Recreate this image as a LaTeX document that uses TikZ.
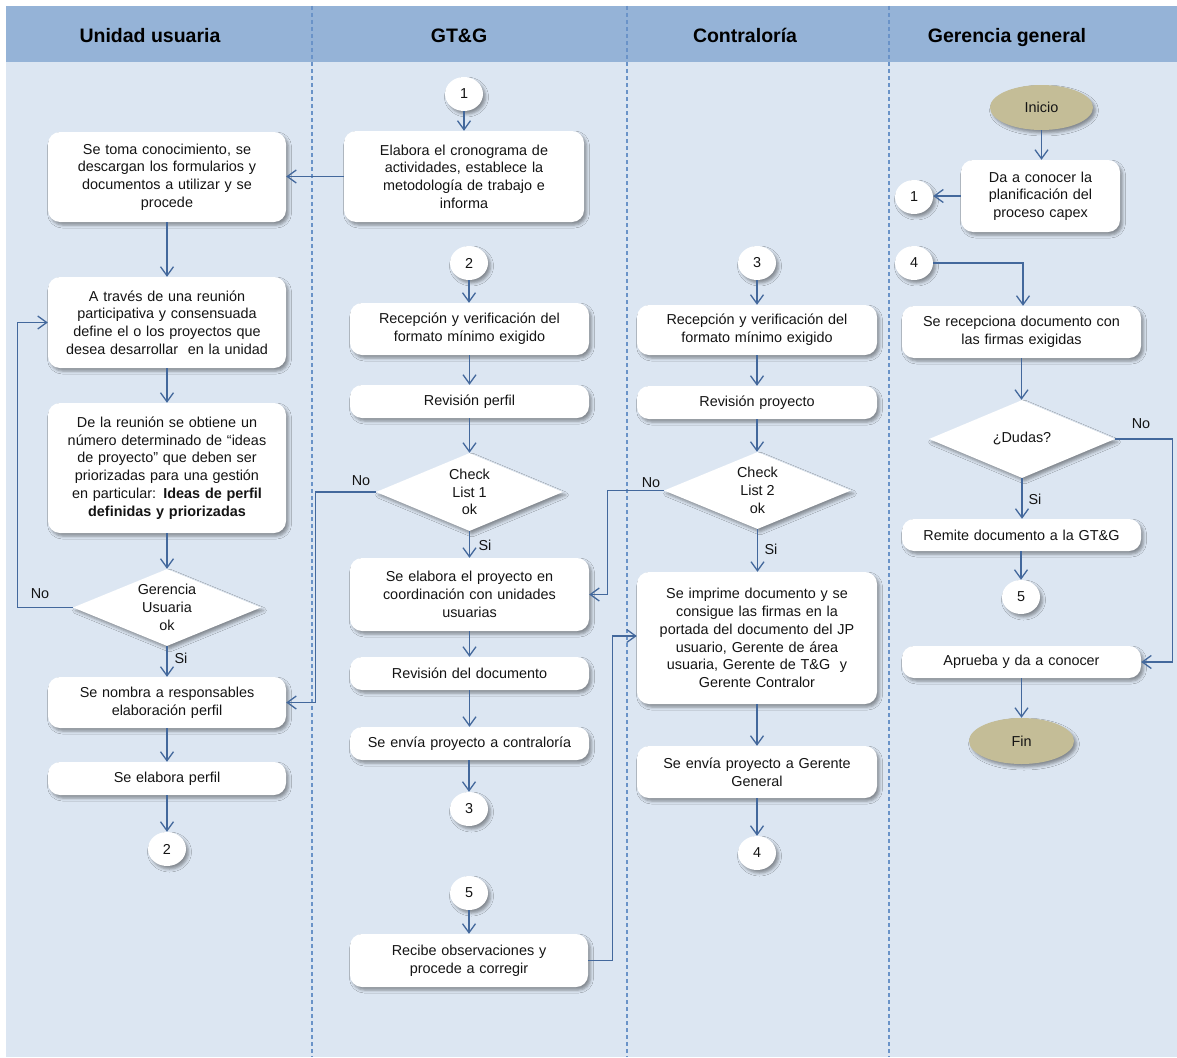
\documentclass[tikz,border=0pt]{standalone}
\usepackage{fontspec}
\setmainfont{Liberation Sans}
\usetikzlibrary{arrows.meta,shapes.geometric,shadows.blur,calc}
\definecolor{headband}{HTML}{95B3D7}
\definecolor{bodyfill}{HTML}{DCE6F2}
\definecolor{sepblue}{HTML}{6A93C8}
\definecolor{flow}{HTML}{43689C}
\definecolor{tan}{HTML}{C4BD97}
\definecolor{ink}{HTML}{141414}
\begin{document}
\begin{tikzpicture}[x=1pt,y=-1pt,
  every node/.style={font=\fontsize{14.4}{17.7}\selectfont, text=ink},
  shadowed/.style={blur shadow={shadow xshift=2.5pt,shadow yshift=-3pt,shadow blur radius=3pt,shadow opacity=40}},
  stepbox/.style={shadowed, fill=white, rounded corners=12pt, minimum width=238pt, text width=230pt, align=center, inner sep=0pt},
  decision/.style={shadowed, shape=diamond, fill=white, inner sep=0pt},
  connector/.style={shadowed, shape=ellipse, fill=white, minimum width=38pt, minimum height=34pt, inner sep=0pt},
  terminal/.style={shadowed, shape=ellipse, fill=tan, inner sep=0pt},
  arr/.style={draw=flow, line width=1.3pt, -{Straight Barb[length=9pt,width=13pt]}},
  lanetitle/.style={font=\fontsize{19.5}{22}\selectfont\bfseries, text=black, anchor=base},
  lanesep/.style={draw=sepblue, line width=1.1pt, dash pattern=on 4pt off 3pt},
  lbl/.style={inner sep=0pt}
]
% page, header band and lane body
\useasboundingbox (0,0) rectangle (1177,1057);
\fill[white] (0,0) rectangle (1177,1057);
\fill[bodyfill] (6,62) rectangle (1177,1057);
\fill[headband] (6,6) rectangle (1177,62);
\foreach \sx in {312,627,889} \draw[lanesep] (\sx,6) -- (\sx,1057);

% lane titles
\node[lanetitle] (t1) at (150,42) {Unidad usuaria};
\node[lanetitle] (t2) at (459,42) {GT\&G};
\node[lanetitle] (t3) at (745,42) {Contraloría};
\node[lanetitle] (t4) at (1007,42) {Gerencia general};

% ---- Unidad usuaria
\node[stepbox, minimum height=90pt] (a1) at (167,177) {Se toma conocimiento, se\\descargan los formularios y\\documentos a utilizar y se\\procede};
\node[stepbox, minimum height=91pt] (a2) at (167,322.5) {A través de una reunión\\participativa y consensuada\\define el o los proyectos que\\desea desarrollar\ \ en la unidad};
\node[stepbox, minimum height=130pt] (a3) at (167,468) {De la reunión se obtiene un\\número determinado de “ideas\\de proyecto” que deben ser\\priorizadas para una gestión\\en particular: \textbf{Ideas de perfil}\\\textbf{definidas y priorizadas}};
\node[decision, minimum width=188pt, minimum height=77pt] (d1) at (167,607.5) {};
\node[align=center] (d1t) at (d1) {Gerencia\\Usuaria\\ok};
\node[stepbox, minimum height=51pt] (a4) at (167,702.5) {Se nombra a responsables\\elaboración perfil};
\node[stepbox, minimum height=33pt] (a5) at (167,778.5) {Se elabora perfil};
\node[connector] (c2u) at (167,849) {2};

% ---- GT&G
\node[connector] (c1g) at (464,94) {1};
\node[stepbox, minimum width=240pt, minimum height=91pt] (b1) at (464,176.5) {Elabora el cronograma de\\actividades, establece la\\metodología de trabajo e\\informa};
\node[connector] (c2g) at (469,263) {2};
\node[stepbox, minimum width=239pt, minimum height=52pt] (b2) at (469.5,329) {Recepción y verificación del\\formato mínimo exigido};
\node[stepbox, minimum width=239pt, minimum height=33pt] (b3) at (469.5,401.5) {Revisión perfil};
\node[decision, minimum width=187pt, minimum height=78pt] (d2) at (469.5,492) {};
\node[align=center] (d2t) at (d2) {Check\\List 1\\ok};
\node[stepbox, minimum width=239pt, minimum height=73pt] (b4) at (469.5,594.5) {Se elabora el proyecto en\\coordinación con unidades\\usuarias};
\node[stepbox, minimum width=239pt, minimum height=33pt] (b5) at (469.5,673.5) {Revisión del documento};
\node[stepbox, minimum width=239pt, minimum height=33pt] (b6) at (469.5,743.5) {Se envía proyecto a contraloría};
\node[connector] (c3g) at (469,809) {3};
\node[connector] (c5g) at (469,893) {5};
\node[stepbox, minimum height=53pt] (b7) at (469,960.5) {Recibe observaciones y\\procede a corregir};

% ---- Contraloría
\node[connector] (c3c) at (757,263) {3};
\node[stepbox, minimum width=240pt, minimum height=50pt] (c1) at (757,330) {Recepción y verificación del\\formato mínimo exigido};
\node[stepbox, minimum width=240pt, minimum height=33pt] (c2) at (757,402.5) {Revisión proyecto};
\node[decision, minimum width=187pt, minimum height=77pt] (d3) at (757.5,490.5) {};
\node[align=center] (d3t) at (d3) {Check\\List 2\\ok};
\node[stepbox, minimum width=240pt, minimum height=132pt] (c3) at (757,638) {Se imprime documento y se\\consigue las firmas en la\\portada del documento del JP\\usuario, Gerente de área\\usuaria, Gerente de T\&G\ \ y\\Gerente Contralor};
\node[stepbox, minimum width=240pt, minimum height=52pt] (c4) at (757,772) {Se envía proyecto a Gerente\\General};
\node[connector] (c4c) at (757,853) {4};

% ---- Gerencia general
\node[terminal, minimum width=103pt, minimum height=45pt] (ini) at (1041.5,107.5) {Inicio};
\node[stepbox, minimum width=159pt, text width=152pt, minimum height=72pt] (g1) at (1040.5,196) {Da a conocer la\\planificación del\\proceso capex};
\node[connector] (c1r) at (914,197) {1};
\node[connector] (c4r) at (914,263) {4};
\node[stepbox, minimum width=239pt, minimum height=52pt] (g2) at (1021.5,332) {Se recepciona documento con\\las firmas exigidas};
\node[decision, minimum width=186pt, minimum height=78pt] (d4) at (1022,439) {};
\node[align=center] (d4t) at (d4) {¿Dudas?};
\node[stepbox, minimum width=239pt, minimum height=32pt] (g3) at (1021.5,535) {Remite documento a la GT\&G};
\node[connector] (c5r) at (1021,597) {5};
\node[stepbox, minimum width=239pt, minimum height=32pt] (g4) at (1021.5,662) {Aprueba y da a conocer};
\node[terminal, minimum width=105pt, minimum height=46pt] (fin) at (1021.5,741) {Fin};

% ---- branch labels
\node[lbl] (no1) at (40,594) {No};
\node[lbl] (si1) at (181,658) {Si};
\node[lbl] (no2) at (361,481) {No};
\node[lbl] (si2) at (485,545) {Si};
\node[lbl] (no3) at (651,483) {No};
\node[lbl] (si3) at (771,549) {Si};
\node[lbl] (no4) at (1141,424) {No};
\node[lbl] (si4) at (1035,499) {Si};

% ---- connectors: Unidad usuaria
\draw[arr] (b1.west) -- (b1.west -| a1.east);
\draw[arr] (a1.south) -- (a2.north);
\draw[arr] (a2.south) -- (a3.north);
\draw[arr] (a3.south) -- (d1.north);
\draw[arr] (d1.south) -- (a4.north);
\draw[arr] (d1.west) -- ++(-55,0) |- (a2.west);
\draw[arr] (a4.south) -- (a5.north);
\draw[arr] (a5.south) -- (c2u.north);

% ---- connectors: GT&G
\draw[arr] (c1g.south) -- (b1.north);
\draw[arr] (c2g.south) -- (c2g.south |- b2.north);
\draw[arr] (b2.south) -- (b3.north);
\draw[arr] (b3.south) -- (d2.north);
\draw[arr] (d2.south) -- (b4.north);
\draw[arr] (d2.west) -- ++(-60,0) |- (a4.east);
\draw[arr] (b4.south) -- (b5.north);
\draw[arr] (b5.south) -- (b6.north);
\draw[arr] (b6.south -| c3g) -- (c3g.north);
\draw[arr] (c5g.south) -- (c5g.south |- b7.north);
\draw[arr] (b7.east) -- ++(24,0) |- ([yshift=2pt]c3.west);

% ---- connectors: Contraloría
\draw[arr] (c3c.south) -- (c1.north);
\draw[arr] (c1.south) -- (c2.north);
\draw[arr] (c2.south) -- (c2.south |- d3.north);
\draw[arr] (d3.south) -- (d3.south |- c3.north);
\draw[arr] (d3.west) -- ++(-56,0) |- (b4.east);
\draw[arr] (c3.south) -- (c4.north);
\draw[arr] (c4.south) -- (c4c.north);

% ---- connectors: Gerencia general
\draw[arr] (ini.south) -- (ini.south |- g1.north);
\draw[arr] (g1.west) -- (g1.west -| c1r.east);
\draw[arr] (c4r.east) -| ([xshift=1.5pt]g2.north);
\draw[arr] (g2.south) -- (g2.south |- d4.north);
\draw[arr] (d4.south) -- (d4.south |- g3.north);
\draw[arr] (d4.east) -- ++(57,0) |- (g4.east);
\draw[arr] (g3.south) -- (g3.south -| c5r) -- (c5r.north);
\draw[arr] (g4.south) -- (fin.north);
\end{tikzpicture}
\end{document}
